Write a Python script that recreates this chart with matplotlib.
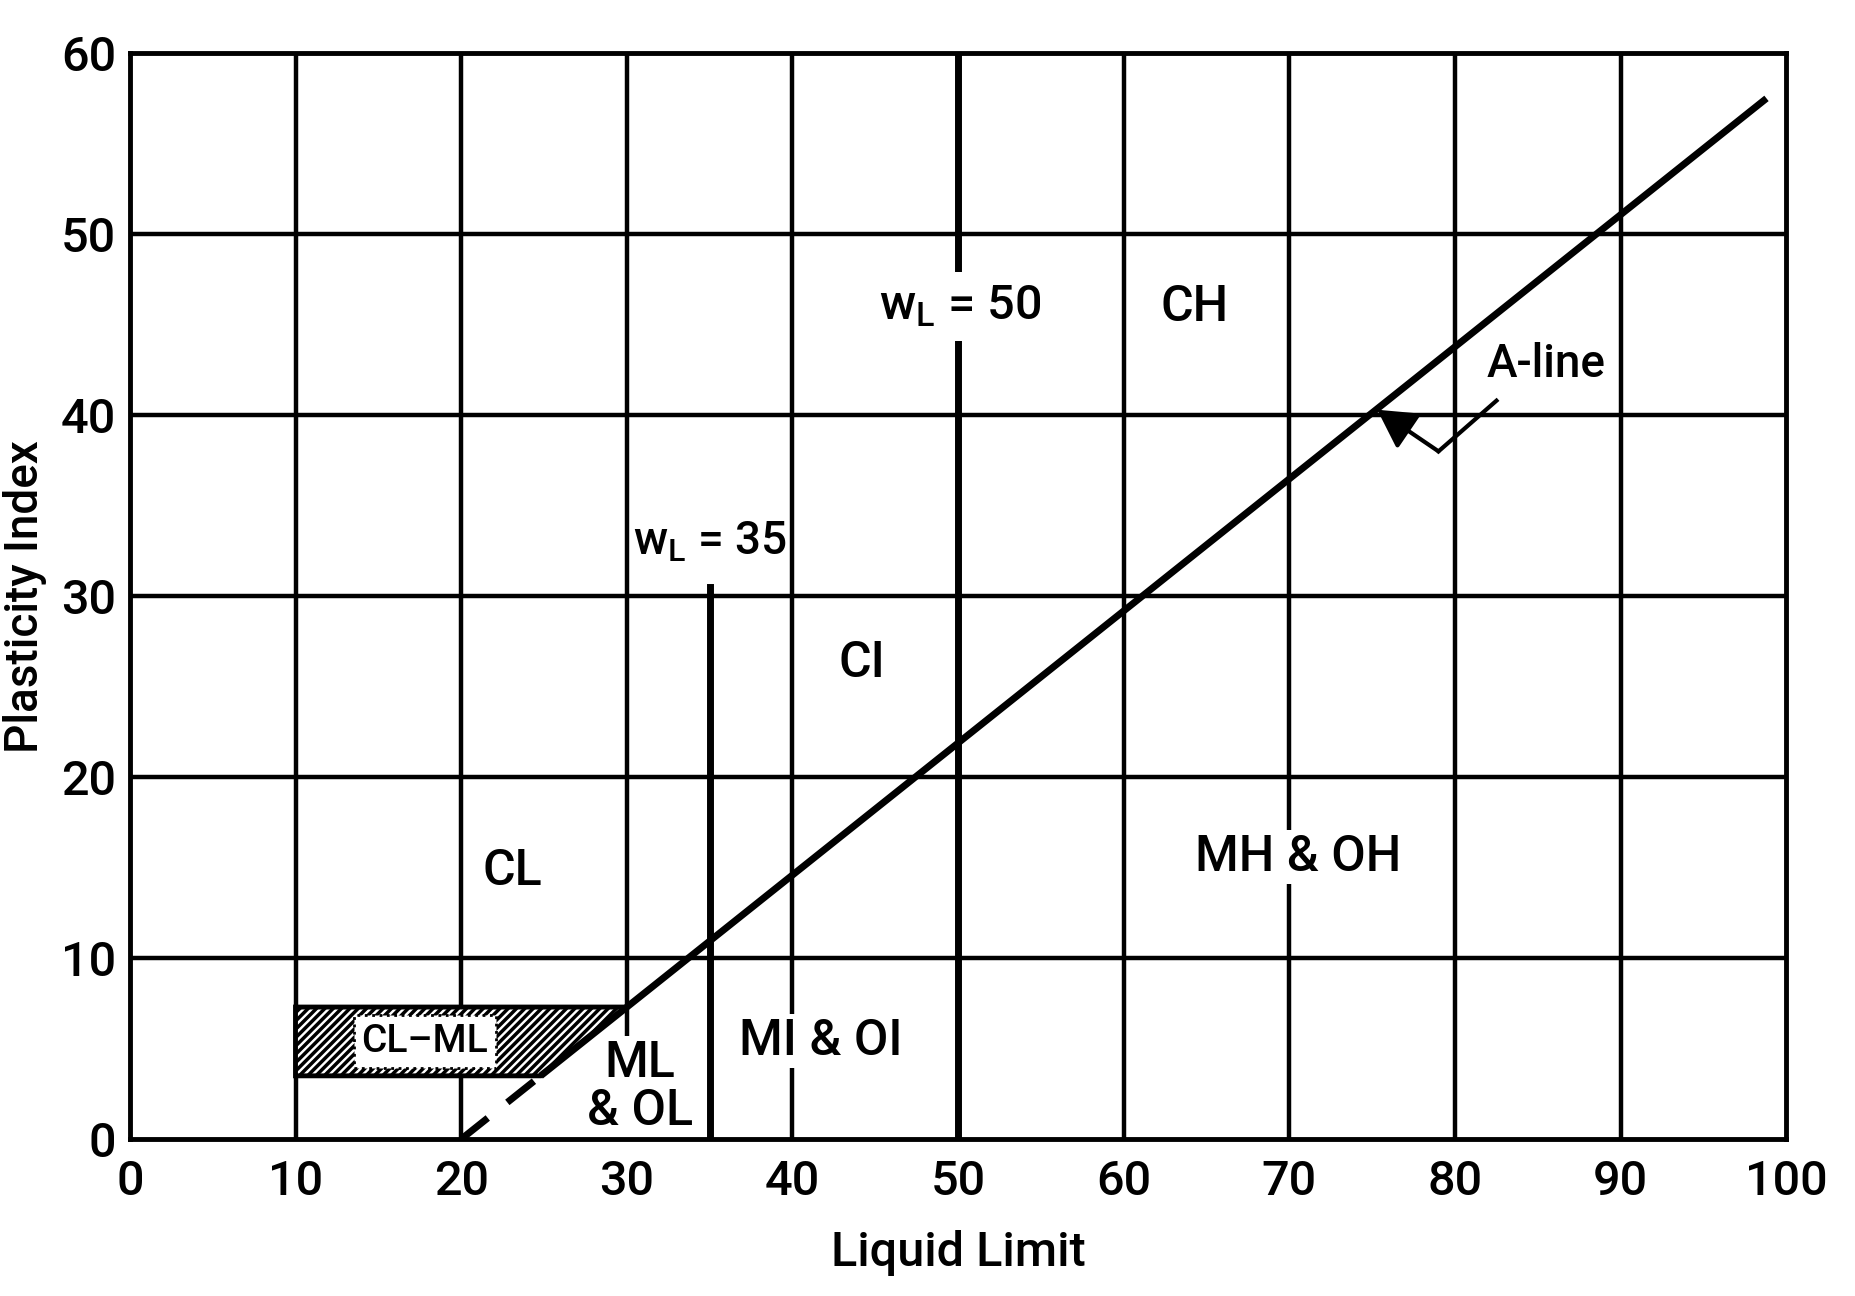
import matplotlib.pyplot as plt
from matplotlib.patches import Polygon

plt.rcParams['font.family'] = ['Roboto', 'DejaVu Sans']
plt.rcParams['font.weight'] = 'medium'
plt.rcParams['axes.labelweight'] = 'medium'
plt.rcParams['hatch.linewidth'] = 2.5

# plasticity chart data
grid_x = [10, 20, 30, 40, 50, 60, 70, 80, 90]
grid_y = [10, 20, 30, 40, 50]
x_ticks = [0, 10, 20, 30, 40, 50, 60, 70, 80, 90, 100]
y_ticks = [0, 10, 20, 30, 40, 50, 60]

# A-line  PI = 0.73 (LL - 20)
aline_dash_ll = [20, 24.8]
aline_dash_pi = [0, 3.5]
aline_ll = [24.8, 98.8]
aline_pi = [3.5, 57.5]

# CL-ML band
band_ll = [10, 10, 30.0, 24.8]
band_pi = [3.5, 7.3, 7.3, 3.5]

wl35_top = 30.5
zones = [
    ('CL', 23.1, 14.8, False),
    ('CI', 44.2, 26.3, False),
    ('CH', 64.3, 46.0, False),
    ('MH & OH', 70.5, 15.6, True),
    ('MI & OI', 41.7, 5.4, True),
    ('ML\n& OL', 30.8, 2.9, True),
]

# pointer from the A-line label to the line
arrow_ll = [82.5, 79.0, 75.3]
arrow_pi = [40.8, 38.0, 40.3]

fig = plt.figure(figsize=(18.55, 12.96), dpi=100)
ax = fig.add_axes([0.070, 0.121, 0.893, 0.838])
ax.set_xlim(0, 100)
ax.set_ylim(0, 60)

for gx in grid_x:
    ax.axvline(gx, color='black', lw=3.2, zorder=1)
for gy in grid_y:
    ax.axhline(gy, color='black', lw=3.2, zorder=1)

# CL-ML hatched band
band = Polygon(list(zip(band_ll, band_pi)), closed=True, facecolor='white',
               edgecolor='black', hatch='////', lw=3.5, zorder=3)
ax.add_patch(band)
ax.text(17.8, 5.4, 'CL\u2013ML', fontsize=28, ha='center', va='center', zorder=4,
        bbox=dict(boxstyle='square,pad=0.2', facecolor='white', edgecolor='black',
                  linestyle=':', lw=2))

# A-line
ax.plot(aline_dash_ll, aline_dash_pi, color='black', lw=5, dashes=(4.9, 3.6),
        solid_capstyle='butt', zorder=5)
ax.plot(aline_ll, aline_pi, color='black', lw=5, solid_capstyle='butt', zorder=5)

# wL = 35 and wL = 50 lines
ax.plot([35, 35], [0, wl35_top], color='black', lw=5, zorder=2)
ax.axvline(50, color='black', lw=5, zorder=2)

ax.text(35.0, 33.0, '$\\mathregular{w_L}$ = 35', fontsize=33, ha='center',
        va='center', zorder=6)
ax.text(50.1, 46.0, '$\\mathregular{w_L}$ = 50', fontsize=35, ha='center',
        va='center', zorder=6,
        bbox=dict(facecolor='white', edgecolor='none', pad=8))

# zone names sit above the grid but under the A-line, wL lines and spines
for name, zx, zy, boxed in zones:
    bb = dict(facecolor='white', edgecolor='none', pad=2) if boxed else None
    ax.text(zx, zy, name, fontsize=36, ha='center', va='center', zorder=1.5,
            linespacing=1.0, bbox=bb)

# A-line label with bent arrow
ax.text(85.5, 42.8, 'A-line', fontsize=33, ha='center', va='center', zorder=6)
ax.plot(arrow_ll[:2], arrow_pi[:2], color='black', lw=3, zorder=6)
ax.annotate('', xy=(arrow_ll[2], arrow_pi[2]), xytext=(arrow_ll[1], arrow_pi[1]),
            arrowprops=dict(arrowstyle='-|>,head_length=0.9,head_width=0.5',
                            mutation_scale=26, color='black', lw=3,
                            shrinkA=0, shrinkB=0), zorder=6)

ax.set_xticks(x_ticks)
ax.set_yticks(y_ticks)
ax.tick_params(length=0, labelsize=35, pad=10)
ax.tick_params(axis='x', pad=14)
for s in ax.spines.values():
    s.set_linewidth(3.5)

ax.set_xlabel('Liquid Limit', fontsize=35, labelpad=18)
ax.set_ylabel('Plasticity Index', fontsize=33, labelpad=10)

fig.savefig('out.png', dpi=100, facecolor='white')
